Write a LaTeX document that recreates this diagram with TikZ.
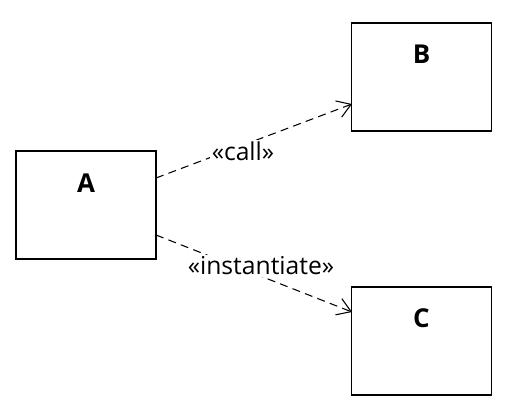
\documentclass[tikz,border=0pt]{standalone}
\usepackage{fontspec}
\setmainfont{Open Sans}
\usetikzlibrary{arrows.meta}
\tikzset{
  classbox/.style={draw=black, line width=0.9pt, minimum width=105pt, minimum height=81pt, inner sep=0pt},
  classname/.style={font=\bfseries\fontsize{19.5}{22}\selectfont},
  dep/.style={draw=black, line width=0.8pt, dash pattern=on 6pt off 4pt, -{Straight Barb[length=10pt,width=13pt,line width=0.8pt]}},
  deplabel/.style={fill=white, inner sep=1pt, font=\fontsize{18.5}{21}\selectfont}
}
\begin{document}
\begin{tikzpicture}[x=0.75pt,y=-0.75pt]
\useasboundingbox (0,0) rectangle (517,414);
\node[classbox] (A) at (86,205) {};
\node[classbox] (B) at (421.5,77) {};
\node[classbox] (C) at (421.5,341) {};
\node[classname] (An) at (86,183) {A};
\node[classname] (Bn) at (421.5,54) {B};
\node[classname] (Cn) at (421.5,318) {C};
\coordinate (a1) at (156,178);
\coordinate (b1) at (352,104);
\coordinate (a2) at (156,235);
\coordinate (c1) at (352,312);
\draw[dep] (a1) -- (b1);
\draw[dep] (a2) -- (c1);
\node[deplabel] (l1) at (243,151) {«call»};
\node[deplabel] (l2) at (261,266) {«instantiate»};
\end{tikzpicture}
\end{document}
